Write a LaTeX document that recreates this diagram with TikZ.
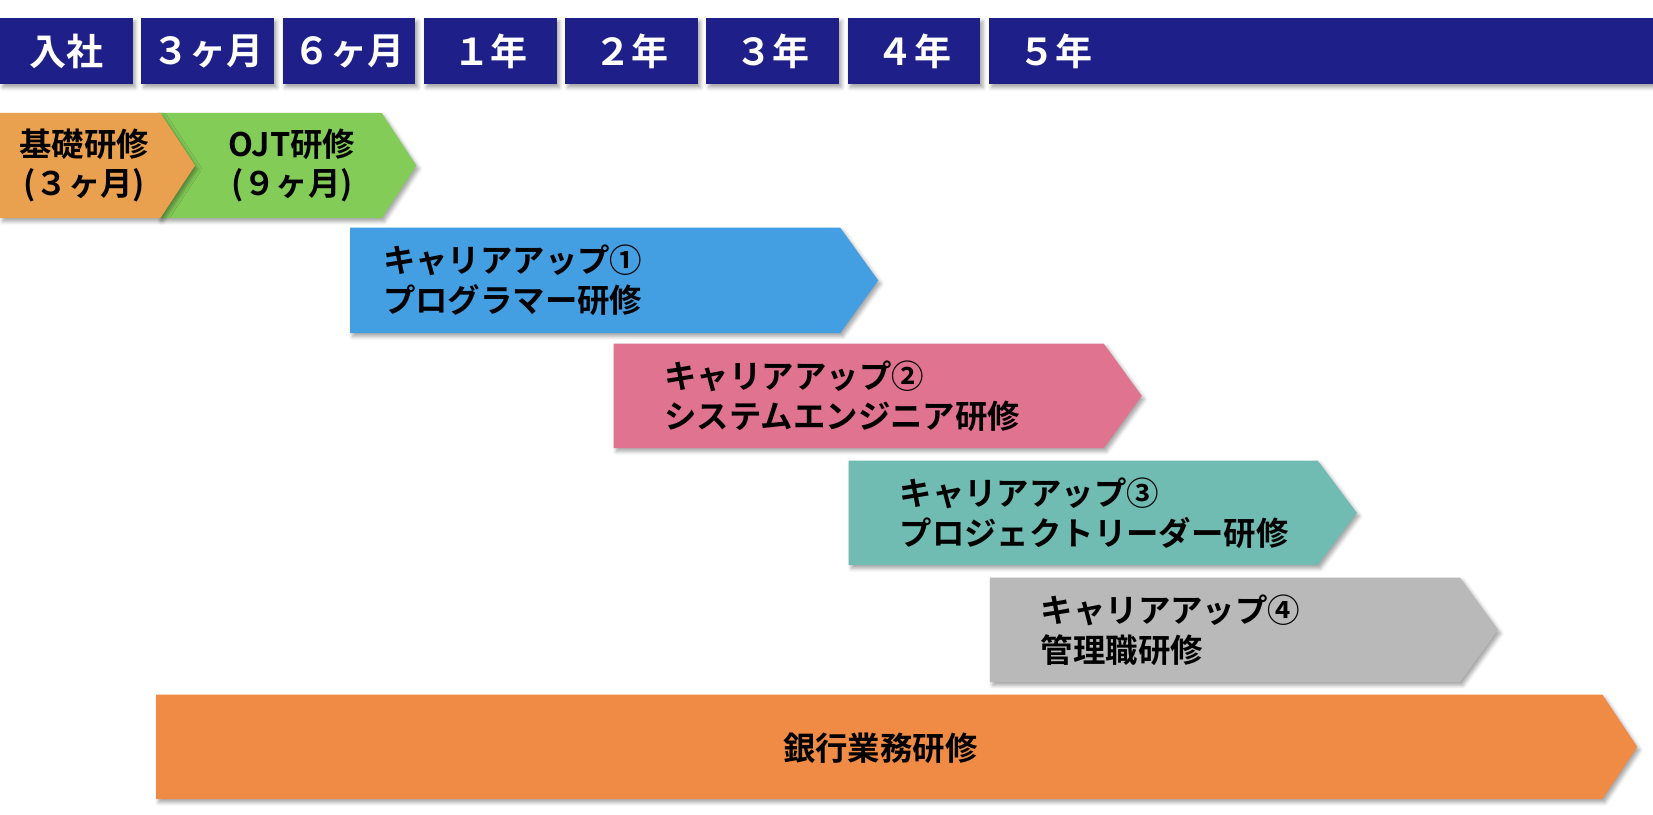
\documentclass[tikz,border=0pt]{standalone}
\usepackage{fontspec}
\setmainfont{Noto Sans CJK JP}[BoldFont={* Bold}]
\usetikzlibrary{shadows,shadows.blur}
\definecolor{headnavy}{HTML}{1E1F88}
\definecolor{basicorange}{HTML}{E9A04F}
\definecolor{ojtgreen}{HTML}{84CC58}
\definecolor{stepblue}{HTML}{439FE1}
\definecolor{steppink}{HTML}{E07390}
\definecolor{stepteal}{HTML}{70BBB2}
\definecolor{stepgray}{HTML}{B9B9B9}
\definecolor{bankorange}{HTML}{EF8B45}

\tikzset{
  softshadow/.style={blur shadow={shadow xshift=1.4pt,shadow yshift=-1.8pt,shadow blur radius=2pt,shadow opacity=35}},
  headcell/.style={fill=headnavy,softshadow,minimum width=2.52cm,minimum height=1.26cm,inner sep=0pt,
    text=white,font=\fontsize{20}{24}\selectfont\bfseries},
  headlabel/.style={text=white,inner sep=0pt,font=\fontsize{20}{24}\selectfont\bfseries},
  stagetext/.style={align=left,inner sep=0pt,font=\fontsize{17.5}{21.5}\selectfont\bfseries},
}

% x0, y0, body end, y1, tip, colour
\newcommand{\stagearrow}[6]{%
  \fill[#6,softshadow] (#1,#2) -- (#3,#2) -- (#5,{(#2+#4)/2}) -- (#3,#4) -- (#1,#4) -- cycle;}

\begin{document}
\begin{tikzpicture}[x=0.02cm,y=-0.02cm]
  \useasboundingbox (0,0) rectangle (1568,773);

  % time line
  \foreach \lab [count=\i from 0] in {入社,３ヶ月,６ヶ月,１年,２年,３年,４年}
    \node[headcell] (head\i) at ({63+134*\i},48.5) {\lab};
  \fill[headnavy,softshadow] (938,17) rectangle (1568,80);
  \node[headlabel] (head7) at (1001,48.5) {５年};

  % first year
  \stagearrow{150}{107}{362}{207}{395}{ojtgreen}
  \stagearrow{0}{107}{152}{207}{185}{basicorange}
  \node[stagetext,align=center] (basicText) at (80,157) {基礎研修\\(３ヶ月)};
  \node[stagetext,align=center] (ojtText) at (277,157) {OJT研修\\(９ヶ月)};

  % career up
  \stagearrow{332}{216}{797}{316}{833}{stepblue}
  \node[stagetext,anchor=west] (stepOne) at (363,266) {キャリアアップ①\\プログラマー研修};

  \stagearrow{582}{326}{1047}{425}{1083}{steppink}
  \node[stagetext,anchor=west] (stepTwo) at (630,375.5) {キャリアアップ②\\システムエンジニア研修};

  \stagearrow{805}{437}{1250}{536}{1287}{stepteal}
  \node[stagetext,anchor=west] (stepThree) at (853,486.5) {キャリアアップ③\\プロジェクトリーダー研修};

  \stagearrow{939}{548}{1385}{647}{1421}{stepgray}
  \node[stagetext,anchor=west] (stepFour) at (987,597.5) {キャリアアップ④\\管理職研修};

  % bank work
  \stagearrow{148}{659}{1520}{758}{1553}{bankorange}
  \node[stagetext] (bankText) at (835,710) {銀行業務研修};
\end{tikzpicture}
\end{document}
